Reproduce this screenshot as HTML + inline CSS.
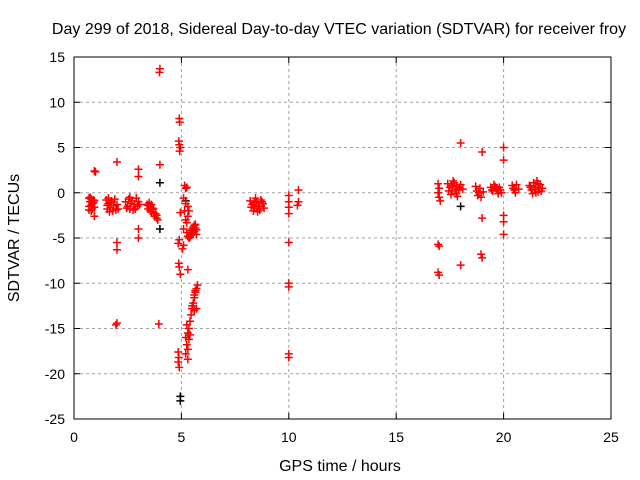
<!DOCTYPE html>
<html><head><meta charset="utf-8"><style>
body{margin:0;background:#fff;}
svg{display:block;font-family:"Liberation Sans",sans-serif;}
</style></head><body>
<svg id="chart" width="640" height="480">
<rect width="640" height="480" fill="#fff"/>
<text x="339" y="34" text-anchor="middle" font-size="16">Day 299 of 2018, Sidereal Day-to-day VTEC variation (SDTVAR) for receiver froy</text>
<text transform="translate(19,238) rotate(-90)" text-anchor="middle" font-size="16">SDTVAR / TECUs</text>
<text x="340" y="471" text-anchor="middle" font-size="16">GPS time / hours</text>
<g id="grid"></g><g id="marks"></g>
<rect x="74" y="57" width="537" height="362" fill="none" stroke="#000"/>
</svg>
<script>
const xTicks=[0,5,10,15,20,25];
const yTicks=[-25,-20,-15,-10,-5,0,5,10,15];
const redPoints=[
[0.7,-0.6],[0.75,-1.0],[0.8,-1.4],[0.85,-1.8],[0.9,-0.8],[0.7,-1.5],[0.85,-1.2],[0.95,-1.6],[0.8,-2.0],[0.75,-0.5],[0.9,-1.1],[0.7,-1.9],[0.95,-0.9],[0.8,-0.7],[0.95,2.4],[1.0,2.3],[0.95,-2.6],
[1.5,-0.8],[1.6,-1.2],[1.7,-1.6],[1.8,-2.0],[1.55,-1.8],[1.9,-0.7],[2.0,-1.3],[1.75,-0.9],[2.05,-1.8],[1.65,-2.1],[1.6,-0.6],[1.85,-1.4],[1.7,-1.1],[1.95,-1.9],[1.55,-1.4],[2.0,3.4],[2.0,-5.5],[2.0,-6.3],[2.0,-14.4],[1.95,-14.6],
[2.4,-1.0],[2.5,-1.5],[2.6,-1.8],[2.7,-0.9],[2.8,-1.3],[2.9,-0.6],[3.0,-1.0],[2.55,-0.7],[2.75,-1.9],[2.95,-1.5],[2.45,-1.7],[2.65,-1.2],[2.85,-1.8],[3.05,-1.3],[2.6,-0.5],[3.0,2.6],[3.0,1.8],[3.0,-4.0],[3.0,-5.0],
[3.4,-1.3],[3.45,-1.8],[3.55,-1.5],[3.6,-2.1],[3.7,-2.2],[3.75,-2.6],[3.85,-2.8],[3.9,-3.0],[3.5,-1.1],[3.65,-1.7],[3.8,-2.3],[3.45,-1.4],[3.55,-2.0],[3.7,-1.8],[3.85,-2.5],[3.6,-1.3],[4.0,3.1],[4.0,13.7],[3.98,13.3],[3.95,-14.5],
[4.9,8.2],[4.92,7.8],[4.88,5.7],[4.9,5.3],[4.95,5.0],[4.92,4.6],[4.95,-2.2],[4.9,-5.2],[4.85,-5.6],[4.88,-7.8],[4.9,-8.2],[4.95,-9.0],[4.85,-17.6],[4.88,-18.2],[4.85,-18.7],[4.9,-19.3],
[5.15,0.8],[5.2,0.5],[5.25,0.6],[5.1,-0.6],[5.2,-1.2],[5.15,-2.0],[5.2,-3.0],[5.25,-3.3],[5.1,-4.0],[5.05,-6.2],[5.1,-5.8],
[5.3,-1.5],[5.35,-2.0],[5.3,-2.6],[5.25,-4.4],[5.35,-5.0],[5.3,-8.5],
[5.3,-4.8],[5.4,-4.5],[5.45,-4.2],[5.5,-4.0],[5.55,-3.8],[5.6,-3.6],[5.65,-3.5],[5.4,-4.9],[5.5,-4.4],[5.7,-4.1],[5.7,-4.6],[5.6,-4.3],[5.45,-4.7],[5.55,-4.5],[5.65,-3.9],
[5.75,-10.2],[5.7,-10.6],[5.65,-11.0],[5.6,-11.6],[5.55,-12.2],[5.5,-12.8],[5.6,-13.0],[5.7,-12.8],[5.45,-13.5],[5.4,-14.2],[5.35,-15.0],[5.3,-15.5],[5.35,-16.2],[5.25,-16.8],[5.3,-17.3],[5.2,-17.8],[5.3,-18.4],[5.2,-16.0],[5.4,-15.7],[5.25,-14.6],[5.65,-10.8],[5.6,-11.3],[5.5,-12.5],
[8.2,-0.9],[8.3,-1.3],[8.4,-1.7],[8.5,-1.0],[8.6,-1.5],[8.7,-0.8],[8.8,-1.2],[8.85,-1.7],[8.35,-2.0],[8.55,-2.1],[8.45,-0.6],[8.25,-1.6],[8.5,-1.4],[8.65,-1.9],[8.75,-1.0],[8.4,-1.1],
[10.0,-0.3],[10.0,-1.0],[10.0,-1.6],[10.0,-2.3],[10.0,-5.5],[10.0,-10.0],[10.0,-10.4],[10.0,-17.8],[10.0,-18.2],[10.45,0.3],[10.45,-1.0],[10.4,-1.4],
[16.95,1.0],[17.0,0.5],[16.95,0.0],[17.0,-0.5],[17.05,-0.9],[16.95,-5.7],[17.0,-5.9],[16.95,-8.8],[17.0,-9.1],
[17.4,1.0],[17.5,0.6],[17.6,0.2],[17.7,1.1],[17.8,0.7],[17.9,0.3],[18.0,0.9],[18.1,0.4],[17.55,-0.2],[17.85,-0.4],[17.65,1.3],[17.45,0.2],[17.75,0.4],[17.95,0.6],[17.6,0.8],[17.8,-0.1],[18.0,5.5],[18.0,-8.0],
[18.7,0.7],[18.75,0.2],[18.8,-0.3],[18.9,0.5],[18.95,-0.5],[19.05,0.1],[18.85,0.0],[19.0,4.5],[19.0,-2.8],[18.95,-6.8],[19.0,-7.2],
[19.4,0.6],[19.5,0.2],[19.6,0.7],[19.7,0.3],[19.8,0.6],[19.9,0.0],[19.55,0.9],[19.75,-0.1],[19.45,0.3],[19.65,0.5],[19.85,0.3],[20.0,5.0],[20.0,3.6],[20.0,-2.5],[20.0,-3.2],[20.0,-4.6],
[20.4,0.8],[20.5,0.3],[20.6,0.9],[20.7,0.4],[20.55,0.0],[20.45,0.5],
[21.2,0.8],[21.3,0.3],[21.4,1.1],[21.5,0.6],[21.6,0.1],[21.7,0.9],[21.8,0.5],[21.35,-0.1],[21.55,1.3],[21.75,0.2],[21.25,0.6],[21.45,0.4],[21.65,0.6],[21.5,0.0],[21.6,1.0]
];
const blackPoints=[[4.0,1.1],[4.0,-4.0],[4.95,-22.5],[4.95,-23.0],[18.0,-1.5],[5.2,-0.9]];
const NS="http://www.w3.org/2000/svg";
const L=74,R=611,T=57,B=419;
function xs(h){return L+(h-0)/(25-0)*(R-L);}
function ys(v){return B-(v+25)/(15+25)*(B-T);}
const grid=document.getElementById('grid'),marks=document.getElementById('marks');
function mk(tag,attrs,parent){const e=document.createElementNS(NS,tag);for(const k in attrs)e.setAttribute(k,attrs[k]);parent.appendChild(e);return e;}
xTicks.forEach(t=>{
  const x=xs(t);
  if(t>0&&t<25){const g=mk('line',{x1:x,x2:x,y1:T,y2:B,stroke:'#a0a0a0','stroke-dasharray':'3,3'},grid);
  
  }
  mk('line',{x1:x,x2:x,y1:B,y2:B-6,stroke:'#000'},grid);
  mk('line',{x1:x,x2:x,y1:T,y2:T+6,stroke:'#000'},grid);
  const tx=mk('text',{x:x,y:B+23,'text-anchor':'middle','font-size':14},grid);tx.textContent=t;
  
  
});
yTicks.forEach(t=>{
  const y=ys(t);
  if(t>-25&&t<15){const g=mk('line',{x1:L,x2:R,y1:y,y2:y,stroke:'#a0a0a0','stroke-dasharray':'3,3'},grid);
  
  }
  mk('line',{x1:L,x2:L+6,y1:y,y2:y,stroke:'#000'},grid);
  mk('line',{x1:R,x2:R-6,y1:y,y2:y,stroke:'#000'},grid);
  const tx=mk('text',{x:L-9,y:y+5,'text-anchor':'end','font-size':14},grid);tx.textContent=t;
  
  
});
function plus(p,color){
  const x=xs(p[0]),y=ys(p[1]);
  const e=mk('path',{d:`M${x-4},${y}H${x+4}M${x},${y-4}V${y+4}`,stroke:color,'stroke-width':1.5,fill:'none'},marks);
  
  
}
blackPoints.forEach(p=>plus(p,'#000'));
redPoints.forEach(p=>plus(p,'#ff0000'));
</script>
</body></html>
